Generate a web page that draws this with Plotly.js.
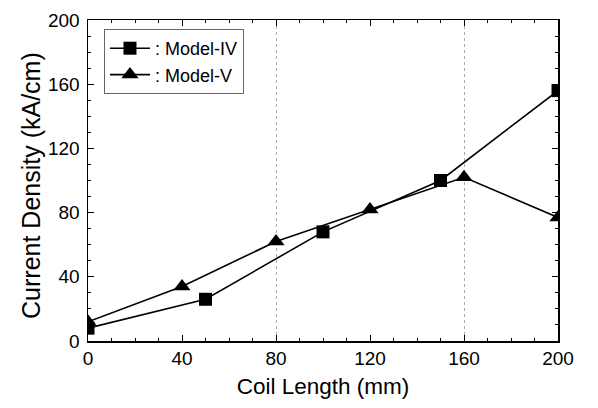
<!DOCTYPE html>
<html><head><meta charset="utf-8">
<script src="https://cdn.plot.ly/plotly-3.0.1.min.js"></script>
<style>html,body{margin:0;padding:0;background:#fff}#c{width:598px;height:408px}</style>
</head><body><div id="c"></div>
<script>
const xIV = [0, 50, 100, 150, 200];
const yIV = [8, 26, 68, 100, 156];
const xV = [0, 40, 80, 120, 160, 200];
const yV = [12, 34, 62, 82, 102, 77];
const namesSeries = [": Model-IV", ": Model-V"];
const yTitle = "Current Density (kA/cm)";
const xTitle = "Coil Length (mm)";
const font = "Liberation Sans, Arial, sans-serif";
const traces = [
  {x: xIV, y: yIV, name: namesSeries[0], mode: "lines+markers", line: {color: "#000", width: 1.6},
   marker: {symbol: "square", size: 13, color: "#000"}},
  {x: xV, y: yV, name: namesSeries[1], mode: "lines+markers", line: {color: "#000", width: 1.6},
   marker: {symbol: "triangle-up", size: 15, color: "#000"}},
  {x: [0], y: [0], xaxis: "x2", showlegend: false, hoverinfo: "skip", mode: "markers", marker: {opacity: 0}}
];
const axCommon = {showline: true, linecolor: "#000", linewidth: 1.5, mirror: "ticks", ticks: "inside",
  ticklen: 6, tickcolor: "#000", zeroline: false, showgrid: false,
  tickfont: {family: font, size: 19, color: "#000"},
  minor: {ticks: "inside", ticklen: 3, dtick: 10, tickcolor: "#000", showgrid: false}};
const layout = {
  width: 598, height: 408, margin: {l: 88, r: 40, t: 20, b: 67},
  paper_bgcolor: "#fff", plot_bgcolor: "#fff", showlegend: true,
  xaxis: Object.assign({}, axCommon, {range: [0, 200], dtick: 40, tick0: 0,
    title: {text: xTitle, font: {family: font, size: 22.5, color: "#000"}, standoff: 10}}),
  xaxis2: {overlaying: "x", range: [0, 200], dtick: 80, tick0: 0, showgrid: true, gridcolor: "#aaa",
    griddash: "dot", gridwidth: 1, showticklabels: false, ticks: "", zeroline: false, showline: false},
  yaxis: Object.assign({}, axCommon, {range: [0, 200], dtick: 40, tick0: 0, ticklabelstandoff: 3}),
  annotations: [{text: yTitle, textangle: -90, xref: "paper", yref: "paper", x: 0, y: 0.483,
    xanchor: "center", yanchor: "middle", xshift: -57, showarrow: false,
    font: {family: font, size: 25, color: "#000"}}],
  legend: {x: 0.034, y: 0.972, xanchor: "left", yanchor: "top", bordercolor: "#666", borderwidth: 1,
    bgcolor: "#fff", font: {family: font, size: 18, color: "#000"}, itemwidth: 40, tracegroupgap: 0}
};
Plotly.newPlot("c", traces, layout, {staticPlot: true});
</script></body></html>
